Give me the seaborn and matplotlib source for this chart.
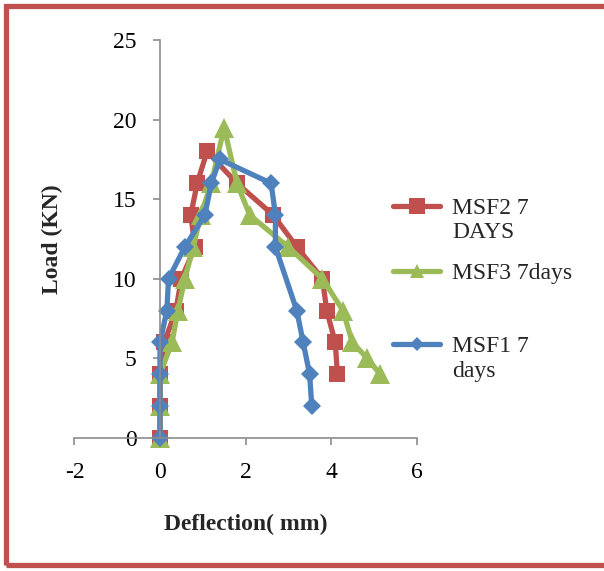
import numpy as np
import pandas as pd
import matplotlib
matplotlib.use('Agg')
import matplotlib.pyplot as plt
import seaborn as sns
from matplotlib.patches import Rectangle

# ---------------- data ----------------
msf2_x = [0, 0, 0, 0.1, 0.37, 0.5, 0.82, 0.72, 0.87, 1.1, 1.8, 2.65, 3.2, 3.8, 3.9, 4.1, 4.15]
msf2_y = [0, 2, 4, 6, 8, 10, 12, 14, 16, 18, 16, 14, 12, 10, 8, 6, 4]

msf3_x = [0, 0, 0, 0.28, 0.42, 0.58, 0.78, 0.95, 1.2, 1.5, 1.8, 2.1, 3.0, 3.8, 4.28, 4.5, 4.85, 5.15]
msf3_y = [0, 2, 4, 6, 8, 10, 12, 14, 16, 19.5, 16, 14, 12, 10, 8, 6, 5, 4]

msf1_x = [0, 0, 0, 0, 0.16, 0.2, 0.58, 1.05, 1.2, 1.4, 2.6, 2.7, 2.7, 3.2, 3.35, 3.5, 3.55]
msf1_y = [0, 2, 4, 6, 8, 10, 12, 14, 16, 17.5, 16, 14, 12, 8, 6, 4, 2]

series_labels = ["MSF2 7\nDAYS", "MSF3 7days", "MSF1 7\ndays"]
x_ticks = [-2, 0, 2, 4, 6]
y_ticks = [0, 5, 10, 15, 20, 25]
x_label = "Deflection( mm)"
y_label = "Load (KN)"

# ---------------- style ----------------
sns.set_style('white')
plt.rcParams['font.family'] = ['Liberation Serif', 'DejaVu Serif']

W, H = 604, 571
fig = plt.figure(figsize=(W / 100, H / 100), dpi=100)
fig.patch.set_facecolor('white')

# axes: x -2..6 -> px 74.5..416.5 ; y 0..25 -> px 438..40
ax = fig.add_axes([74.5 / W, (H - 438) / H, 342 / W, 398 / H])

colors = ['#C0504D', '#9BBB59', '#4F81BD']
markers = ['s', '^', 'D']
msizes = [12, 14, 9]
data = [(msf2_x, msf2_y), (msf3_x, msf3_y), (msf1_x, msf1_y)]

handles = []
for (xs, ys), lab, c, m, ms in zip(data, series_labels, colors, markers, msizes):
    df = pd.DataFrame({'x': xs, 'y': ys})
    sns.lineplot(data=df, x='x', y='y', sort=False, estimator=None, ax=ax,
                 color=c, marker=m, markersize=ms, markeredgewidth=0,
                 linewidth=3.8, label=lab, legend=False, clip_on=False)
    handles.append(ax.lines[-1])

ax.set_xlim(-2, 6)
ax.set_ylim(0, 25)
ax.set_xticks(x_ticks)
ax.set_yticks(y_ticks)
ax.set_xticklabels([str(v) for v in x_ticks])
ax.set_yticklabels([str(v) for v in y_ticks])

for s in ['top', 'right']:
    ax.spines[s].set_visible(False)
ax.spines['left'].set_position(('data', 0))
for s in ['left', 'bottom']:
    ax.spines[s].set_color('#8C8C8C')
    ax.spines[s].set_linewidth(1.2)
ax.tick_params(axis='both', direction='out', length=5, width=1.2, color='#8C8C8C',
               labelsize=17, labelcolor='black')
ax.tick_params(axis='x', pad=12, bottom=True)
ax.tick_params(axis='y', pad=12, left=True)
ax.grid(False)

ax.set_xlabel(x_label, fontsize=17, fontweight='bold')
ax.set_ylabel(y_label, fontsize=17, fontweight='bold')
ax.xaxis.set_label_coords(0.5, -0.19)
ax.yaxis.set_label_coords(-0.034, 0.5)

# ---------------- legend ----------------
fs = 17
first_lines = [lab.split('\n')[0] for lab in series_labels]
second_lines = [lab.split('\n')[1] if '\n' in lab else None for lab in series_labels]
leg_y = [208, 273, 346]
mscales = [1.0, 0.7, 0.8]
for h, t1, t2, yy, sc in zip(handles, first_lines, second_lines, leg_y, mscales):
    leg = fig.legend(handles=[h], labels=[t1], loc='center left',
                     bbox_to_anchor=(393 / W, 1 - yy / H), bbox_transform=fig.transFigure,
                     frameon=False, fontsize=fs, handlelength=2.0, handletextpad=0.5,
                     borderpad=0, borderaxespad=0, numpoints=1, markerscale=sc)
    if t2:
        fig.text(452 / W, 1 - (yy + 25) / H, t2, fontsize=fs, ha='left', va='center')

# ---------------- outer border ----------------
fig.patches.append(Rectangle((5.5 / W, 1 - 565 / H), (W + 20) / W, (565 - 5.5) / H,
                             transform=fig.transFigure, fill=False,
                             edgecolor='#C0504D', linewidth=3.8, clip_on=False))

fig.savefig('out.png', dpi=100)
